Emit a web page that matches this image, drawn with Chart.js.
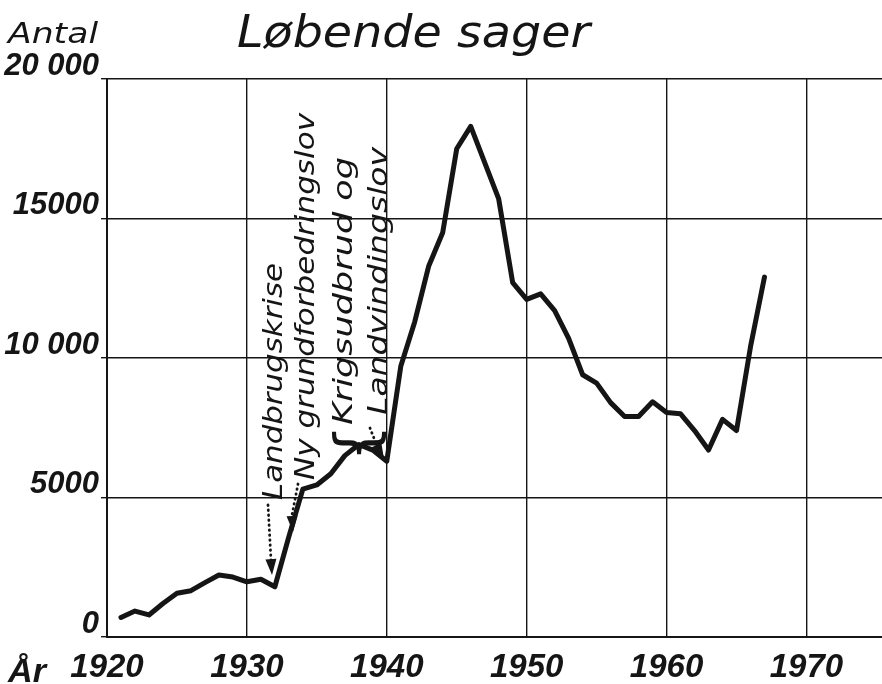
<!DOCTYPE html>
<html lang="da">
<head>
  <meta charset="UTF-8">
  <title>Løbende sager</title>
  <script src="https://cdn.jsdelivr.net/npm/chart.js"></script>
  <style>
    body { margin: 0; background: #fff; }
    #wrap { width: 882px; height: 684px; }
  </style>
</head>
<body>
  <div id="wrap"><canvas id="sagerChart" width="882" height="684"></canvas></div>

  <script>
    // Løbende sager pr. år (aflæst fra kurven)
    const years = [1921, 1922, 1923, 1924, 1925, 1926, 1927, 1928, 1929, 1930,
                   1931, 1932, 1933, 1934, 1935, 1936, 1937, 1938, 1939, 1940,
                   1941, 1942, 1943, 1944, 1945, 1946, 1947, 1948, 1949, 1950,
                   1951, 1952, 1953, 1954, 1955, 1956, 1957, 1958, 1959, 1960,
                   1961, 1962, 1963, 1964, 1965, 1966, 1967];
    const cases = [700, 930, 790, 1200, 1570, 1660, 1950, 2220, 2150, 1980,
                   2070, 1800, 3600, 5300, 5450, 5850, 6500, 6900, 6700, 6300,
                   9700, 11300, 13300, 14500, 17500, 18300, 17000, 15700, 12700, 12100,
                   12300, 11700, 10700, 9400, 9100, 8400, 7900, 7900, 8430, 8050,
                   8000, 7400, 6700, 7800, 7400, 10400, 12900];

    const yTicks = [0, 5000, 10000, 15000, 20000];
    const yTickLabels = ['0', '5000', '10 000', '15000', '20 000'];
    const xTicks = [1920, 1930, 1940, 1950, 1960, 1970];

    const notes = ['Landbrugskrise', 'Ny grundforbedringslov', 'Krigsudbrud og', 'Landvindingslov'];

    const INK = '#151515';
    const HAND = "'DejaVu Sans', sans-serif";
    const NUM = "'Liberation Sans', Arial, sans-serif";
    const NARROW = "'Liberation Sans Narrow', 'Liberation Sans', sans-serif";

    // skriver lodret tekst (nedefra og op) tilpasset en given længde
    function vText(ctx, str, x, yBottom, yTop, font) {
      ctx.save();
      ctx.translate(x, yBottom);
      ctx.rotate(-Math.PI / 2);
      ctx.font = font;
      const w = ctx.measureText(str).width;
      ctx.scale((yBottom - yTop) / w, 1);
      ctx.fillText(str, 0, 0);
      ctx.restore();
    }

    function hText(ctx, str, x, y, width, font) {
      ctx.save();
      ctx.font = font;
      const w = ctx.measureText(str).width;
      ctx.translate(x, y);
      ctx.scale(width / w, 1);
      ctx.fillText(str, 0, 0);
      ctx.restore();
    }

    function dottedArrow(ctx, x1, y1, x2, y2, tx, ty) {
      ctx.save();
      ctx.strokeStyle = INK;
      ctx.lineWidth = 2.8;
      ctx.lineCap = 'round';
      ctx.setLineDash([0.5, 4.5]);
      ctx.beginPath();
      ctx.moveTo(x1, y1);
      ctx.lineTo(x2, y2);
      ctx.stroke();
      ctx.setLineDash([]);
      // pilespids
      const a = Math.atan2(ty - y2, tx - x2);
      const len = 16, half = 5.5;
      ctx.beginPath();
      ctx.moveTo(tx, ty);
      ctx.lineTo(tx - len * Math.cos(a) + half * Math.sin(a), ty - len * Math.sin(a) - half * Math.cos(a));
      ctx.lineTo(tx - len * Math.cos(a) - half * Math.sin(a), ty - len * Math.sin(a) + half * Math.cos(a));
      ctx.closePath();
      ctx.fillStyle = INK;
      ctx.fill();
      ctx.restore();
    }

    const labelsPlugin = {
      id: 'handLabels',
      beforeDraw(chart) {
        const ctx = chart.ctx;
        ctx.save();
        ctx.fillStyle = '#fff';
        ctx.fillRect(0, 0, chart.width, chart.height);
        ctx.restore();
      },
      afterDraw(chart) {
        const ctx = chart.ctx;
        ctx.save();
        ctx.fillStyle = INK;
        ctx.textBaseline = 'alphabetic';

        hText(ctx, 'Løbende sager', 237, 47, 353, 'oblique 44px ' + HAND);
        hText(ctx, 'Antal', 8, 43, 90, 'oblique 28px ' + HAND);
        hText(ctx, 'År', 8, 682, 38, 'italic bold 34px ' + NUM);

        // lodrette noter
        const f = 'oblique 26px ' + HAND;
        vText(ctx, notes[0], 282, 500, 263, f);
        vText(ctx, notes[1], 314, 480, 113, f);
        vText(ctx, notes[2], 352, 425, 157, f);
        vText(ctx, notes[3], 387, 415, 147, f);

        // klamme om de to sidste linjer
        ctx.save();
        ctx.translate(362, 443);
        ctx.rotate(-Math.PI / 2);
        ctx.font = '58px ' + HAND;
        ctx.textAlign = 'center';
        ctx.textBaseline = 'middle';
        ctx.fillText('{', 0, 0);
        ctx.restore();

        dottedArrow(ctx, 268, 505, 271, 560, 272, 575);
        dottedArrow(ctx, 298, 484, 292, 515, 293, 532);
        dottedArrow(ctx, 370, 428, 377, 446, 384, 459);
        ctx.restore();
      }
    };

    const ctx = document.getElementById('sagerChart').getContext('2d');
    const sagerChart = new Chart(ctx, {
      type: 'line',
      data: {
        datasets: [{
          label: 'Løbende sager',
          data: years.map((yr, i) => ({ x: yr, y: cases[i] })),
          borderColor: INK,
          borderWidth: 5,
          borderJoinStyle: 'round',
          borderCapStyle: 'round',
          pointRadius: 0,
          tension: 0,
          fill: false
        }]
      },
      options: {
        responsive: false,
        animation: false,
        layout: { padding: { top: 79, right: 0, bottom: 0, left: 0 } },
        plugins: {
          legend: { display: false },
          tooltip: { enabled: false }
        },
        scales: {
          x: {
            type: 'linear',
            min: 1920,
            max: 1975.4,
            afterFit: (scale) => { scale.height = 47; },
            afterBuildTicks: (scale) => { scale.ticks = xTicks.map(v => ({ value: v })); },
            grid: { color: INK, lineWidth: 1.4, drawTicks: false },
            border: { color: INK, width: 2 },
            ticks: {
              padding: 11,
              color: INK,
              font: { family: NARROW, size: 33, style: 'italic', weight: 'bold' },
              callback: (v) => String(v)
            }
          },
          y: {
            min: 0,
            max: 20000,
            afterFit: (scale) => { scale.width = 107; },
            afterBuildTicks: (scale) => { scale.ticks = yTicks.map(v => ({ value: v })); },
            grid: { color: INK, lineWidth: 1.4, tickLength: 6 },
            border: { color: INK, width: 2 },
            ticks: {
              padding: 2,
              labelOffset: -13,
              color: INK,
              font: { family: NUM, size: 31, style: 'italic', weight: 'bold' },
              callback: (v) => yTickLabels[yTicks.indexOf(v)]
            }
          }
        }
      },
      plugins: [labelsPlugin]
    });
  </script>
</body>
</html>
